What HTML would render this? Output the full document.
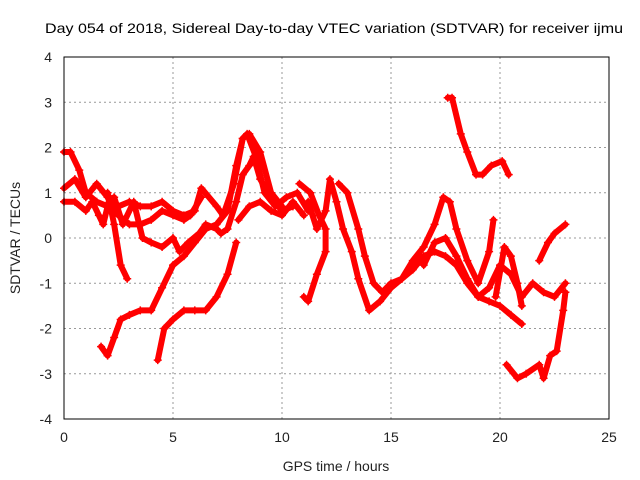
<!DOCTYPE html>
<html><head><meta charset="utf-8"><style>
body{margin:0;background:#fff;}
svg{display:block;font-family:"Liberation Sans",sans-serif;}
</style></head><body>
<svg id="chart" width="640" height="480" viewBox="0 0 640 480">
<text x="45" y="33" font-size="14" textLength="578" lengthAdjust="spacingAndGlyphs" fill="#000">Day 054 of 2018, Sidereal Day-to-day VTEC variation (SDTVAR) for receiver ijmu</text>
<text x="336" y="471" font-size="14" text-anchor="middle" fill="#222">GPS time / hours</text>
<text transform="translate(20,238) rotate(-90)" font-size="14" text-anchor="middle" fill="#222">SDTVAR / TECUs</text>
<g id="grid"></g><g id="ticks"></g><g id="series"></g>
<rect x="64" y="57" width="545" height="362" fill="none" stroke="#000" stroke-width="1"/>
</svg>
<script>
const xTicks=[0,5,10,15,20,25];
const yTicks=[-4,-3,-2,-1,0,1,2,3,4];
const segA=[[0,1.1],[0.5,1.3],[1,0.9],[1.5,1.2],[2,0.9],[2.3,0.6],[2.5,0.7],[3,0.8],[3.5,0.7],[4,0.7],[4.5,0.8],[5,0.6],[5.5,0.5],[6,0.6],[6.3,1.1],[7,0.7],[7.3,0.5],[7.8,1.2],[8.2,2.2],[8.4,2.3],[8.8,1.8],[9.2,1.0],[9.7,0.7],[10.2,0.9],[10.7,1.0],[11.2,0.6]];
const segB=[[0,1.9],[0.3,1.9],[0.7,1.5],[1,1.0],[1.5,0.8],[2,0.7],[2.5,0.5],[3,0.3],[3.5,0.3],[4,0.4],[4.5,0.6],[5,0.5],[5.5,0.4],[5.8,0.5],[6.3,0.9]];
const segC=[[0,0.8],[0.5,0.8],[1,0.6],[1.3,0.8],[1.6,0.5],[1.8,0.3],[2.1,0.9]];
const segD=[[2,1.0],[2.3,0.3],[2.6,-0.6],[2.9,-0.9]];
const segE=[[2.3,0.9],[2.7,0.3],[3.2,0.8],[3.6,0],[4,-0.1],[4.5,-0.2],[5,0],[5.3,-0.3],[5.7,-0.1],[6.2,0.1],[6.5,0.3],[7,0.2],[7.2,0.1],[7.5,0.2],[7.9,0.8],[8.2,1.4],[8.5,1.6],[8.7,1.8],[9,1.3],[9.5,0.9],[10,0.6],[10.5,0.7]];
const segF=[[1.7,-2.4],[2,-2.6],[2.3,-2.2],[2.6,-1.8],[3,-1.7],[3.5,-1.6],[4,-1.6],[4.5,-1.1],[5,-0.6],[5.5,-0.4],[6,-0.1],[6.5,0.2],[7,0.3],[7.5,0.6],[7.9,1.6],[8.2,2.2],[8.5,2.3],[9,1.9],[9.5,1.0],[10,0.7]];
const segG=[[4.3,-2.7],[4.6,-2.0],[5,-1.8],[5.5,-1.6],[6,-1.6],[6.5,-1.6],[7,-1.3],[7.5,-0.8],[7.9,-0.1]];
const segH=[[8,0.4],[8.5,0.7],[9,0.8],[9.5,0.6],[10,0.5],[10.5,0.8],[11,0.5]];
const segI=[[11,-1.3],[11.2,-1.4],[11.6,-0.8],[12,-0.3],[12,0.2],[11.7,0.5],[11.3,1.0],[10.8,1.2]];
const segJ=[[11.2,0.8],[11.6,0.2],[12,0.6],[12.2,1.3],[12.5,0.8],[12.8,0.2],[13.2,-0.3],[13.5,-0.9],[14,-1.6],[14.5,-1.4],[15,-1.1],[15.5,-0.9],[16,-0.7],[16.5,-0.4],[17,-0.3],[17.5,-0.4],[18,-0.6],[18.5,-1.0],[19,-1.3],[19.5,-1.4],[20,-1.5],[20.5,-1.7],[21,-1.9]];
const segK=[[12.6,1.2],[13,1.0],[13.5,0.2],[13.8,-0.4],[14.2,-1.0],[14.6,-1.2],[15,-1.0],[15.5,-0.9],[16,-0.5],[16.5,-0.2],[17,0.3],[17.4,0.9],[17.7,0.8],[18,0.2],[18.5,-0.5],[19,-1.0],[19.5,-0.3],[19.7,0.4]];
const segL=[[16.5,-0.6],[17,-0.1],[17.5,0],[18,-0.4],[18.5,-0.9],[19,-1.3],[19.5,-1.1],[20,-0.6],[20.5,-0.8],[21,-1.3],[21.5,-1.0],[22,-1.2],[22.5,-1.3],[23,-1.0]];
const segM=[[19.8,-1.3],[20.2,-0.2],[20.5,-0.4],[20.8,-1.0],[21,-1.5]];
const segN=[[17.6,3.1],[17.8,3.1],[18.2,2.3],[18.5,1.9],[18.9,1.4],[19.2,1.4],[19.6,1.6],[20.1,1.7],[20.4,1.4]];
const segO=[[20.3,-2.8],[20.8,-3.1],[21.2,-3.0],[21.8,-2.8],[22,-3.1],[22.3,-2.6],[22.6,-2.5],[22.9,-1.6],[23,-1.2]];
const segP=[[21.8,-0.5],[22.2,-0.1],[22.5,0.1],[23,0.3]];
const allSeries=[segA,segB,segC,segD,segE,segF,segG,segH,segI,segJ,segK,segL,segM,segN,segO,segP];
const NS="http://www.w3.org/2000/svg";
const X=v=>64+v*545/25, Y=v=>238-v*362/8;
const grid=document.getElementById('grid'),ticks=document.getElementById('ticks'),ser=document.getElementById('series');
function mk(t,a,p){const e=document.createElementNS(NS,t);for(const k in a)e.setAttribute(k,a[k]);p.appendChild(e);return e;}
xTicks.forEach(v=>{
 if(v>0&&v<25){const g=mk('line',{x1:X(v),x2:X(v),y1:57,y2:419,stroke:'#999','stroke-dasharray':'2,3'},grid);
 
 }
 const t=mk('text',{x:X(v),y:442,'font-size':14,'text-anchor':'middle',fill:'#222'},ticks);t.textContent=v;
 
 
});
yTicks.forEach(v=>{
 if(v>-4&&v<4){const g=mk('line',{x1:64,x2:609,y1:Y(v),y2:Y(v),stroke:'#999','stroke-dasharray':'2,3'},grid);
 
 }
 const t=mk('text',{x:52,y:Y(v)+5,'font-size':14,'text-anchor':'end',fill:'#222'},ticks);t.textContent=v;
 
 
});
allSeries.forEach((s,i)=>{
 const pl=mk('polyline',{points:s.map(p=>X(p[0])+','+Y(p[1])).join(' '),fill:'none',stroke:'#f00','stroke-width':6,'stroke-linejoin':'round','stroke-linecap':'round'},ser);
 
 
 s.forEach(p=>{const x=X(p[0]),y=Y(p[1]);
  const m=mk('path',{d:`M${x-4},${y}H${x+4}M${x},${y-4}V${y+4}`,stroke:'#f00','stroke-width':1.5},ser);
  
  
 });
});
</script>
</body></html>
